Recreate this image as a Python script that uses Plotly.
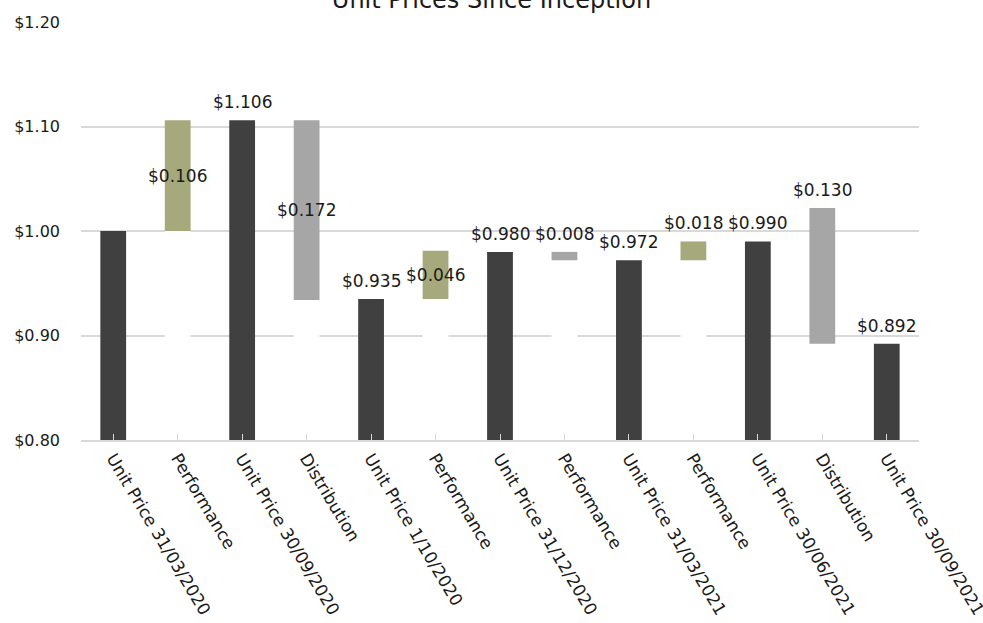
import plotly.graph_objects as go

categories = ["Unit Price 31/03/2020", "Performance", "Unit Price 30/09/2020", "Distribution",
              "Unit Price 1/10/2020", "Performance", "Unit Price 31/12/2020", "Performance",
              "Unit Price 31/03/2021", "Performance", "Unit Price 30/06/2021", "Distribution",
              "Unit Price 30/09/2021"]
kind = ["total", "up", "total", "down", "total", "up", "total", "down",
        "total", "up", "total", "down", "total"]
amount = [1.000, 0.106, 1.106, 0.172, 0.935, 0.046, 0.980, 0.008, 0.972, 0.018, 0.990, 0.130, 0.892]
# where each floating bar starts (top for 'down', bottom for 'up')
start = [None, 1.000, None, 1.106, None, 0.935, None, 0.980, None, 0.972, None, 1.022, None]
# where the value label sits: none / middle of bar / above bar
label_pos = ["none", "middle", "above", "middle", "above", "middle", "above",
             "above", "above", "above", "above", "above", "above"]

colors = {"total": "#404040", "up": "#A6A97B", "down": "#A6A6A6"}

x = list(range(len(categories)))
bases, heights, white_h = [], [], []
for k, a, s in zip(kind, amount, start):
    if k == "total":
        bases.append(0)
        heights.append(a)
        white_h.append(0)
    elif k == "up":
        bases.append(s)
        heights.append(a)
        white_h.append(s)
    else:
        bases.append(s - a)
        heights.append(a)
        white_h.append(s - a)

font = "DejaVu Sans"
txtcol = "#1a1a1a"
fig = go.Figure()
fig.add_trace(go.Bar(x=x, y=white_h, base=0, marker=dict(color="white", line_width=0),
                     hoverinfo="skip", showlegend=False))
fig.add_trace(go.Bar(x=x, y=heights, base=bases,
                     marker=dict(color=[colors[k] for k in kind], line_width=0),
                     showlegend=False))

for i, (b, h, p, a) in enumerate(zip(bases, heights, label_pos, amount)):
    if p == "none":
        continue
    if p == "middle":
        fig.add_annotation(x=i, y=b + h / 2, text=f"${a:.3f}", showarrow=False,
                           yanchor="middle", font=dict(family=font, size=17, color=txtcol))
    else:
        fig.add_annotation(x=i, y=b + h, text=f"${a:.3f}", showarrow=False,
                           yanchor="bottom", yshift=6,
                           font=dict(family=font, size=17, color=txtcol))

fig.update_layout(
    width=983, height=623, barmode="overlay", bargap=0.6,
    plot_bgcolor="white", paper_bgcolor="white",
    margin=dict(l=81, r=64, t=22, b=183),
    title=dict(text="Unit Prices Since Inception", x=0.5, xanchor="center",
               y=1.0, yref="container", yanchor="middle",
               font=dict(family=font, size=24, color=txtcol)),
    font=dict(family=font, size=16, color=txtcol),
    xaxis=dict(tickmode="array", tickvals=x, ticktext=categories, tickangle=59,
               range=[-0.5, len(categories) - 0.5], automargin=False,
               ticklabeloverflow="allow",
               showline=True, linecolor="#D9D9D9", linewidth=1.5,
               ticks="inside", tickson="boundaries", ticklen=6, tickcolor="#D9D9D9",
               showgrid=False, tickfont=dict(family=font, size=17, color=txtcol)),
    yaxis=dict(range=[0.8, 1.2], dtick=0.1, tickformat="$.2f", showgrid=True,
               gridcolor="#D9D9D9", gridwidth=1.5, zeroline=False, showline=False,
               automargin=False,
               tickfont=dict(family=font, size=16, color=txtcol), ticklabelstandoff=20),
)
fig.write_html("out.html")
